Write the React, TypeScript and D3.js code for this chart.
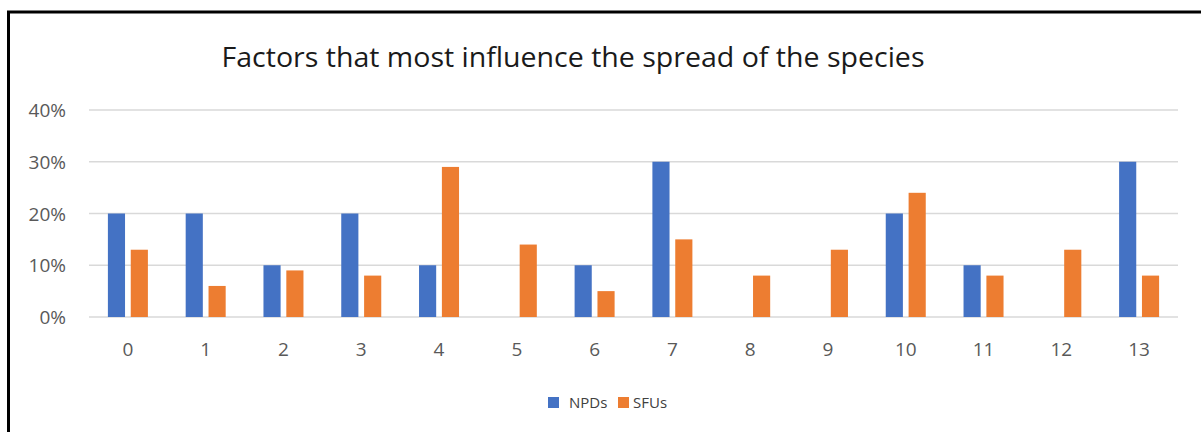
import React from 'react';
import * as d3 from 'd3';

// categories and values
const categories: string[] = ['0', '1', '2', '3', '4', '5', '6', '7', '8', '9', '10', '11', '12', '13'];
const seriesNames: string[] = ['NPDs', 'SFUs'];
const npds: number[] = [0.2, 0.2, 0.1, 0.2, 0.1, 0, 0.1, 0.3, 0, 0, 0.2, 0.1, 0, 0.3];
const sfus: number[] = [0.13, 0.06, 0.09, 0.08, 0.29, 0.14, 0.05, 0.15, 0.08, 0.13, 0.24, 0.08, 0.13, 0.08];
const yTicks: number[] = [0, 0.1, 0.2, 0.3, 0.4];
const chartTitle = 'Factors that most influence the spread of the species';

const colors: { [k: string]: string } = { NPDs: '#4472C4', SFUs: '#ED7D31' };
const font = '"Open Sans", sans-serif';

const width = 1201;
const height = 432;

let x_scale = d3.scaleBand<string>()
    .domain(categories)
    .range([89, 1178])
    .paddingInner(0)
    .paddingOuter(0);

let x_inner = d3.scaleBand<string>()
    .domain(seriesNames)
    .range([-20, 20])
    .paddingInner(0.25);

let y_scale = d3.scaleLinear()
    .domain([0, 0.4])
    .range([317, 110]);

const fmt = d3.format('.0%');

export default function App() {
    const series = [
        { name: 'NPDs', values: npds },
        { name: 'SFUs', values: sfus },
    ];

    return (
        <svg width={width} height={height} style={{ position: 'absolute', left: 0, top: 0, background: '#fff' }}>
            {/* frame */}
            <rect x={8.5} y={12} width={1200} height={430} fill="white" stroke="#000" strokeWidth={3} />

            <text x={573} y={67} textAnchor="middle" fontFamily={font} fontSize={27}
                textLength={703} lengthAdjust="spacingAndGlyphs" fill="#1a1a1a">{chartTitle}</text>

            {/* gridlines and y labels */}
            {yTicks.map(t => (
                <g key={t}>
                    <line x1={89} x2={1178} y1={y_scale(t)} y2={y_scale(t)} stroke="#d9d9d9" strokeWidth={1.5} />
                    <text x={66} y={y_scale(t) + 7} textAnchor="end" fontFamily={font} fontSize={19} fill="#595959">{fmt(t)}</text>
                </g>
            ))}

            {/* bars */}
            {series.map(s => (
                <g key={s.name} fill={colors[s.name]}>
                    {s.values.map((v, i) => {
                        const cx = (x_scale(categories[i]) as number) + x_scale.bandwidth() / 2;
                        return v > 0 ? (
                            <rect key={i}
                                x={cx + (x_inner(s.name) as number)}
                                y={y_scale(v)}
                                width={x_inner.bandwidth()}
                                height={y_scale(0) - y_scale(v)} />
                        ) : null;
                    })}
                </g>
            ))}

            {/* x labels */}
            {categories.map(c => (
                <text key={c} x={(x_scale(c) as number) + x_scale.bandwidth() / 2} y={356}
                    textAnchor="middle" fontFamily={font} fontSize={19} fill="#595959">{c}</text>
            ))}

            {/* legend */}
            <rect x={548} y={397} width={11} height={11} fill={colors.NPDs} />
            <text x={569} y={408} fontFamily={font} fontSize={15} fill="#404040">NPDs</text>
            <rect x={618} y={397} width={11} height={11} fill={colors.SFUs} />
            <text x={633} y={408} fontFamily={font} fontSize={15} fill="#404040">SFUs</text>
        </svg>
    );
}
